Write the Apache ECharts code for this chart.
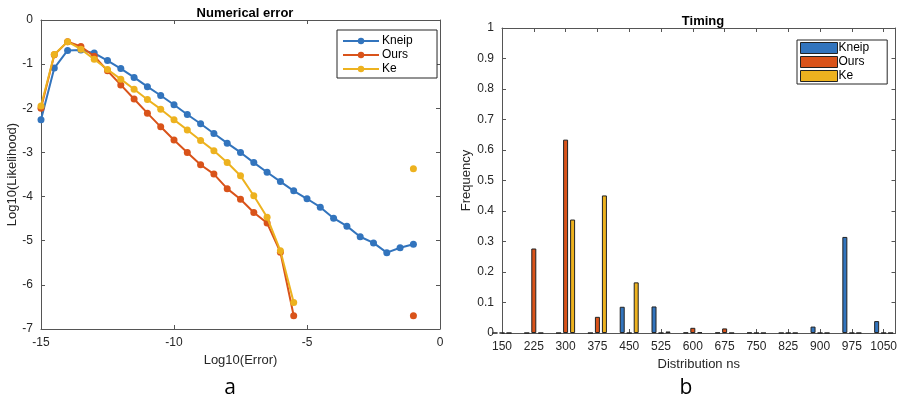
<!DOCTYPE html>
<html>
<head>
<meta charset="utf-8">
<script src="https://cdn.jsdelivr.net/npm/echarts@6/dist/echarts.min.js"></script>
<style>
  html, body { margin: 0; padding: 0; background: #fff; }
  #chart { width: 900px; height: 405px; }
</style>
</head>
<body>
<div id="chart"></div>
<script>
// panel a: log10(error) vs log10(likelihood)
const errX = [-15, -14.5, -14, -13.5, -13, -12.5, -12, -11.5, -11, -10.5, -10, -9.5, -9, -8.5, -8,
  -7.5, -7, -6.5, -6, -5.5, -5, -4.5, -4, -3.5, -3, -2.5, -2, -1.5, -1]
const kneipLik = [-2.26, -1.09, -0.69, -0.68, -0.75, -0.92, -1.10, -1.30, -1.51, -1.71, -1.92, -2.14, -2.35, -2.57, -2.79,
  -3.00, -3.23, -3.45, -3.66, -3.87, -4.05, -4.24, -4.49, -4.67, -4.91, -5.05, -5.27, -5.16, -5.08]
const oursLik = [-2.00, -0.79, -0.49, -0.60, -0.82, -1.15, -1.47, -1.79, -2.11, -2.42, -2.72, -3.00, -3.28, -3.49, -3.82,
  -4.06, -4.36, -4.60, -5.26, -6.70, null, null, null, null, null, null, null, null, -6.70]
const keLik = [-1.95, -0.78, -0.49, -0.66, -0.89, -1.12, -1.34, -1.57, -1.80, -2.02, -2.26, -2.49, -2.73, -2.96, -3.23,
  -3.53, -3.98, -4.47, -5.23, -6.40, null, null, null, null, null, null, null, null, -3.37]

// panel b: timing histogram
const bins = [150, 225, 300, 375, 450, 525, 600, 675, 750, 825, 900, 975, 1050]
const kneipFreq = [0, 0, 0, 0, 0.086, 0.087, 0.001, 0.001, 0.001, 0, 0.021, 0.315, 0.039]
const oursFreq = [0, 0.277, 0.634, 0.053, 0, 0, 0.017, 0.015, 0, 0, 0, 0, 0]
const keFreq = [0, 0, 0.372, 0.451, 0.166, 0.005, 0.002, 0, 0, 0, 0, 0, 0]

const names = ['Kneip', 'Ours', 'Ke']
const colors = ['#3274BD', '#D9531A', '#EDB21F']
const axisColor = '#262626'
const font = 'Liberation Sans, Arial, sans-serif'

let pairs = (xs, ys) => xs.map((x, i) => [x, ys[i] === null ? '-' : ys[i]])

let boxAxis = (extra) => Object.assign({
  axisLine: {show: true, onZero: false, lineStyle: {color: '#555', width: 1}},
  axisTick: {show: true, inside: true, length: 4, lineStyle: {color: '#555'}},
  axisLabel: {color: axisColor, fontSize: 12, fontFamily: font, formatter: v => String(v)},
  splitLine: {show: false},
  nameTextStyle: {color: axisColor, fontSize: 13, fontFamily: font}
}, extra)

let chart = echarts.init(document.getElementById('chart'), null, {renderer: 'canvas'})

let option = {
  animation: false,
  textStyle: {fontFamily: font},
  title: [
    {text: 'Numerical error', left: 240, top: 2, textAlign: 'center',
      textStyle: {fontSize: 13, fontWeight: 'bold', color: '#000', fontFamily: font}},
    {text: 'Timing', left: 698, top: 10, textAlign: 'center',
      textStyle: {fontSize: 13, fontWeight: 'bold', color: '#000', fontFamily: font}},
    {text: 'a', left: 225, top: 373, textAlign: 'center',
      textStyle: {fontSize: 21, fontWeight: 'normal', color: '#000', fontFamily: 'Open Sans, sans-serif'}},
    {text: 'b', left: 681, top: 373, textAlign: 'center',
      textStyle: {fontSize: 21, fontWeight: 'normal', color: '#000', fontFamily: 'Open Sans, sans-serif'}}
  ],
  legend: [
    {
      data: names.map(n => ({name: n + ' '})),
      orient: 'vertical', left: 337, top: 30,
      itemWidth: 36, itemHeight: 8, itemGap: 2,
      padding: [5, 21, 3, 5],
      borderColor: '#262626', borderWidth: 1, backgroundColor: '#fff',
      textStyle: {fontSize: 12, lineHeight: 12, color: '#000', fontFamily: font, padding: [0, 0, 0, -2]}
    },
    {
      data: names,
      orient: 'vertical', left: 797, top: 40,
      itemWidth: 37, itemHeight: 11, itemGap: 2,
      padding: [2, 18, 2, 3],
      borderColor: '#262626', borderWidth: 1, backgroundColor: '#fff',
      textStyle: {fontSize: 12, lineHeight: 12, color: '#000', fontFamily: font, padding: [0, 0, 0, -4]}
    }
  ],
  grid: [
    {left: 41, right: 460, top: 20, bottom: 76},
    {left: 502, right: 3, top: 28, bottom: 72}
  ],
  xAxis: [
    boxAxis({gridIndex: 0, type: 'value', min: -15, max: 0, interval: 5, position: 'bottom',
      name: 'Log10(Error)', nameLocation: 'middle', nameGap: 22}),
    boxAxis({gridIndex: 0, type: 'value', min: -15, max: 0, interval: 5, position: 'top',
      axisLabel: {show: false}}),
    boxAxis({gridIndex: 1, type: 'value', min: 150, max: 1078, interval: 75, position: 'bottom',
      name: 'Distribution ns', nameLocation: 'middle', nameGap: 22,
      axisLabel: {color: axisColor, fontSize: 12, fontFamily: font, showMaxLabel: false, formatter: v => String(v)}}),
    boxAxis({gridIndex: 1, type: 'value', min: 150, max: 1078, interval: 75, position: 'top',
      axisLabel: {show: false}})
  ],
  yAxis: [
    boxAxis({gridIndex: 0, type: 'value', min: -7, max: 0, interval: 1, position: 'left',
      name: 'Log10(Likelihood)', nameLocation: 'middle', nameGap: 22}),
    boxAxis({gridIndex: 0, type: 'value', min: -7, max: 0, interval: 1, position: 'right',
      axisLabel: {show: false}}),
    boxAxis({gridIndex: 1, type: 'value', min: 0, max: 1, interval: 0.1, position: 'left',
      name: 'Frequency', nameLocation: 'middle', nameGap: 28}),
    boxAxis({gridIndex: 1, type: 'value', min: 0, max: 1, interval: 0.1, position: 'right',
      axisLabel: {show: false}})
  ],
  series: []
}

let likData = [kneipLik, oursLik, keLik]
names.forEach((n, i) => {
  option.series.push({
    name: n + ' ',
    type: 'line',
    xAxisIndex: 0, yAxisIndex: 0,
    data: pairs(errX, likData[i]),
    connectNulls: false,
    symbol: 'circle', symbolSize: 7, showSymbol: true,
    itemStyle: {color: colors[i]},
    lineStyle: {color: colors[i], width: 2},
    z: 3 + i
  })
})

let freqData = [kneipFreq, oursFreq, keFreq]
names.forEach((n, i) => {
  option.series.push({
    name: n,
    type: 'bar',
    xAxisIndex: 2, yAxisIndex: 2,
    data: pairs(bins, freqData[i]),
    barWidth: 5, barGap: '40%',
    itemStyle: {color: colors[i], borderColor: '#222', borderWidth: 1}
  })
})
option.legend[1].data = names.map(n => ({name: n, icon: 'rect', itemStyle: {borderWidth: 1, borderColor: '#222'}}))

chart.setOption(option)
</script>
</body>
</html>
